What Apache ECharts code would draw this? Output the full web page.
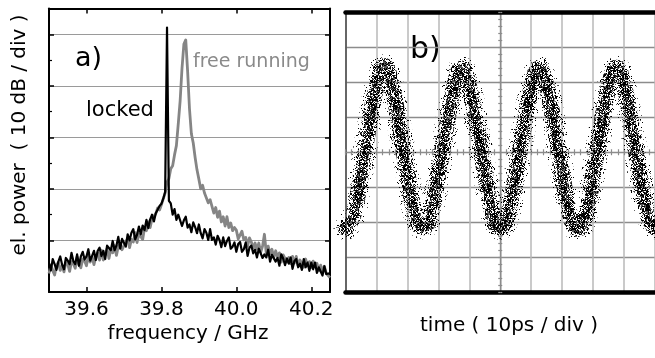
<!DOCTYPE html>
<html><head><meta charset="utf-8">
<script src="https://cdn.jsdelivr.net/npm/echarts@6/dist/echarts.min.js"></script>
<style>html,body{margin:0;padding:0;background:#fff}#c{width:655px;height:358px}</style>
</head><body><div id="c"></div>
<script>
// ---- panel a) spectrum data (dB, 10 dB per division) ----
const freqGHz = [
39.500,39.505,39.510,39.515,39.520,39.525,39.530,39.535,39.540,39.545,
39.550,39.555,39.560,39.565,39.570,39.575,39.580,39.585,39.590,39.595,
39.600,39.605,39.610,39.615,39.620,39.625,39.630,39.635,39.640,39.645,
39.650,39.655,39.660,39.665,39.670,39.675,39.680,39.685,39.690,39.695,
39.700,39.705,39.710,39.715,39.720,39.725,39.730,39.735,39.740,39.745,
39.750,39.755,39.760,39.765,39.770,39.775,39.780,39.785,39.790,39.795,
39.800,39.805,39.810,39.815,39.820,39.825,39.830,39.835,39.840,39.845,
39.850,39.855,39.860,39.865,39.870,39.875,39.880,39.885,39.890,39.895,
39.900,39.905,39.910,39.915,39.920,39.925,39.930,39.935,39.940,39.945,
39.950,39.955,39.960,39.965,39.970,39.975,39.980,39.985,39.990,39.995,
40.000,40.005,40.010,40.015,40.020,40.025,40.030,40.035,40.040,40.045,
40.050,40.055,40.060,40.065,40.070,40.075,40.080,40.085,40.090,40.095,
40.100,40.105,40.110,40.115,40.120,40.125,40.130,40.135,40.140,40.145,
40.150,40.155,40.160,40.165,40.170,40.175,40.180,40.185,40.190,40.195,
40.200,40.205,40.210,40.215,40.220,40.225,40.230,40.235,40.240,40.245,
40.250];
const lockedDb = [
5.6,4.2,6.4,5.4,4.3,5.9,6.9,5.3,4.4,6.6,
6.1,5.4,7.6,6.0,5.4,7.3,5.1,6.9,7.8,6.3,
6.9,8.3,6.1,7.0,8.0,6.2,8.0,8.6,7.0,8.0,
6.4,9.0,8.7,8.1,9.9,8.1,9.0,10.7,8.4,10.3,
10.1,8.8,11.2,10.0,11.5,12.2,10.2,11.1,12.7,11.2,
12.9,12.0,14.0,12.4,14.1,15.0,13.7,15.3,15.3,16.7,
17.1,18.1,19.4,51.3,17.7,17.2,15.0,16.1,14.0,15.0,
14.7,12.8,13.9,14.6,12.5,13.1,11.6,13.5,12.6,11.4,
13.1,11.4,10.4,12.2,11.5,10.1,12.2,10.1,10.6,9.2,
10.9,10.1,8.7,10.6,8.9,9.9,10.6,8.4,8.8,9.6,
7.8,9.3,9.7,7.8,8.3,9.6,7.0,8.6,9.0,7.5,
8.2,6.7,8.4,8.5,6.6,7.3,6.7,8.2,5.9,7.2,
7.5,5.9,6.6,5.1,7.3,6.5,5.2,6.5,5.5,6.7,
4.5,6.0,6.4,4.8,5.5,4.3,6.4,4.8,5.7,4.1,
5.7,4.4,5.7,3.7,4.8,5.1,3.2,5.0,3.5,3.7,
3.6];
const freeRunningDb = [
3.6,5.2,4.2,3.3,5.2,5.8,4.2,5.1,3.9,5.8,
5.4,4.0,5.9,5.5,4.6,6.8,5.3,4.7,6.4,6.0,
5.1,7.1,5.8,6.9,5.3,6.9,7.6,6.2,8.1,6.2,
7.3,8.4,6.5,8.3,7.6,9.0,7.1,8.9,9.4,8.2,
8.2,9.7,10.4,8.6,10.2,9.7,11.5,9.6,11.3,11.2,
10.2,12.4,11.9,13.6,12.5,14.2,13.9,15.2,16.3,15.9,
16.9,18.1,19.2,21.3,22.0,23.9,24.5,26.6,28.4,32.6,
37.1,43.4,48.1,48.9,42.8,35.5,30.7,28.9,26.1,23.7,
21.9,20.0,20.7,19.2,19.4,17.3,17.9,17.7,15.3,16.4,
14.5,15.7,13.6,14.6,12.8,14.6,12.5,13.4,11.9,12.5,
12.0,10.3,10.4,11.8,10.1,10.6,8.9,10.5,9.7,8.5,
9.5,8.3,9.5,7.7,8.9,11.2,7.5,8.9,7.4,8.3,
6.7,8.0,6.7,7.6,5.8,7.2,7.5,5.8,6.7,5.5,
6.9,5.6,6.9,5.1,6.2,6.4,4.8,6.4,5.1,5.9,
4.7,6.0,4.9,5.6,4.1,5.2,4.1,5.0,3.6,3.9,
2.8];
const freqTicks = [39.6, 39.8, 40.0, 40.2];

// ---- panel b) sampling scope trace (divisions) ----
const timeDiv = [-5,-4.75,-4.5,-4.25,-4,-3.75,-3.5,-3.25,-3,-2.75,-2.5,-2.25,-2,-1.75,-1.5,-1.25,-1,-0.75,-0.5,-0.25,
  0,0.25,0.5,0.75,1,1.25,1.5,1.75,2,2.25,2.5,2.75,3,3.25,3.5,3.75,4,4.25,4.5,4.75,5];
const scopeDiv = [-2.17,-1.82,-0.64,0.72,1.88,2.47,1.90,0.70,-0.60,-1.78,-2.15,-1.80,-0.62,0.68,1.84,2.40,1.86,0.72,-0.58,-1.76,
  -2.16,-1.80,-0.66,0.66,1.82,2.40,1.88,0.74,-0.58,-1.78,-2.20,-1.84,-0.64,0.70,1.86,2.42,1.90,0.72,-0.60,-1.76,-2.15];

const FONT = '"DejaVu Sans", sans-serif';

// speckle texture used as the stroke style of the scope trace
function speckle(w, h, density, seed) {
  const c = document.createElement('canvas');
  c.width = w; c.height = h;
  const ctx = c.getContext('2d');
  let s = seed >>> 0;
  const rnd = () => { s = (Math.imul(s, 1664525) + 1013904223) >>> 0; return (s >>> 8) / 16777216; };
  for (let y = 0; y < h; y++) for (let x = 0; x < w; x++) {
    if (rnd() < density) {
      ctx.fillStyle = rnd() < 0.7 ? '#000' : '#5a5a5a';
      ctx.fillRect(x, y, 1, 1);
    }
  }
  return { image: c, repeat: 'repeat' };
}

const chart = echarts.init(document.getElementById('c'), null, { renderer: 'canvas' });
const lockedPts = freqGHz.map((f, i) => [f, lockedDb[i]]);
const freePts = freqGHz.map((f, i) => [f, freeRunningDb[i]]);
const wavePts = timeDiv.map((t, i) => [t, scopeDiv[i]]);

const black = { color: '#000', width: 2 };
const bRect = { left: 345.5, top: 12.5, width: 310, height: 279.5 };
const centerLine = { color: '#8c8c8c', width: 1.2 };

chart.setOption({
  animation: false,
  grid: [
    { left: 49, top: 8.5, width: 281, height: 283.5 },
    Object.assign({}, bRect), Object.assign({}, bRect), Object.assign({}, bRect)
  ],
  xAxis: [
    { gridIndex: 0, type: 'value', min: 39.5, max: 40.25, position: 'bottom',
      axisLine: { onZero: false, lineStyle: black },
      axisTick: { inside: true, length: 5, customValues: freqTicks, lineStyle: { color: '#000', width: 1.5 } },
      axisLabel: { customValues: freqTicks, formatter: v => v.toFixed(1), fontFamily: FONT, fontSize: 20, color: '#000', margin: 8 },
      splitLine: { show: false } },
    { gridIndex: 0, type: 'value', min: 39.5, max: 40.25, position: 'top',
      axisLine: { onZero: false, lineStyle: black },
      axisTick: { inside: true, length: 5, customValues: freqTicks, lineStyle: { color: '#000', width: 1.5 } },
      axisLabel: { show: false }, splitLine: { show: false } },
    { gridIndex: 1, type: 'value', min: -5, max: 5, interval: 1, position: 'bottom',
      axisLine: { onZero: false, lineStyle: { color: '#000', width: 4.5 } },
      axisTick: { show: false }, axisLabel: { show: false },
      splitLine: { show: true, lineStyle: { color: '#b8b8b8', width: 1.5 } } },
    { gridIndex: 1, type: 'value', min: -5, max: 5, interval: 1, position: 'top',
      axisLine: { onZero: false, lineStyle: { color: '#000', width: 4.5 } },
      axisTick: { show: false }, axisLabel: { show: false }, splitLine: { show: false } },
    { gridIndex: 2, type: 'value', min: -5, max: 5, interval: 1,
      axisLine: { onZero: true, lineStyle: centerLine },
      axisTick: { show: true, length: 3, lineStyle: centerLine },
      minorTick: { show: true, splitNumber: 5, length: 3, lineStyle: centerLine },
      axisLabel: { show: false }, splitLine: { show: false } },
    { gridIndex: 3, type: 'value', min: -5, max: 5, interval: 1,
      axisLine: { onZero: true, lineStyle: centerLine },
      axisTick: { show: true, inside: true, length: 3, lineStyle: centerLine },
      minorTick: { show: true, splitNumber: 5, length: 3, lineStyle: centerLine },
      axisLabel: { show: false }, splitLine: { show: false } }
  ],
  yAxis: [
    { gridIndex: 0, type: 'value', min: 0, max: 55, interval: 10, position: 'left',
      axisLine: { show: true, onZero: false, lineStyle: black },
      axisTick: { inside: true, length: 5, lineStyle: { color: '#000', width: 1.5 } },
      minorTick: { show: true, splitNumber: 2, length: 3, lineStyle: { color: '#000', width: 1.2 } },
      axisLabel: { show: false },
      splitLine: { show: true, lineStyle: { color: '#9a9a9a', width: 1.2 } } },
    { gridIndex: 0, type: 'value', min: 0, max: 55, interval: 10, position: 'right',
      axisLine: { show: true, onZero: false, lineStyle: black },
      axisTick: { inside: true, length: 5, lineStyle: { color: '#000', width: 1.5 } },
      axisLabel: { show: false }, splitLine: { show: false } },
    { gridIndex: 1, type: 'value', min: -4, max: 4, interval: 1, position: 'left',
      axisLine: { show: true, onZero: false, lineStyle: { color: '#444', width: 1.5 } },
      axisTick: { show: false }, axisLabel: { show: false },
      splitLine: { show: true, lineStyle: { color: '#8c8c8c', width: 1.3 } } },
    { gridIndex: 2, type: 'value', min: -4, max: 4, interval: 1,
      axisLine: { show: true, onZero: true, lineStyle: centerLine },
      axisTick: { show: true, length: 2, lineStyle: centerLine },
      minorTick: { show: true, splitNumber: 5, length: 2, lineStyle: centerLine },
      axisLabel: { show: false }, splitLine: { show: false } },
    { gridIndex: 3, type: 'value', min: -4, max: 4, interval: 1,
      axisLine: { show: true, onZero: true, lineStyle: centerLine },
      axisTick: { show: true, inside: true, length: 2, lineStyle: centerLine },
      minorTick: { show: true, splitNumber: 5, length: 2, lineStyle: centerLine },
      axisLabel: { show: false }, splitLine: { show: false } }
  ],
  series: [
    { name: 'free running', type: 'line', xAxisIndex: 0, yAxisIndex: 0, data: freePts,
      showSymbol: false, silent: true, z: 3, lineStyle: { color: '#858585', width: 2.8, join: 'round' } },
    { name: 'locked', type: 'line', xAxisIndex: 0, yAxisIndex: 0, data: lockedPts,
      showSymbol: false, silent: true, z: 4, lineStyle: { color: '#000', width: 2.2, join: 'round' } },
    { name: 'trace outer', type: 'line', xAxisIndex: 2, yAxisIndex: 2, data: wavePts, smooth: 0.5,
      showSymbol: false, silent: true, z: 3,
      lineStyle: { width: 24, color: speckle(97, 89, 0.08, 11), cap: 'round', join: 'round' } },
    { name: 'trace mid', type: 'line', xAxisIndex: 2, yAxisIndex: 2, data: wavePts, smooth: 0.5,
      showSymbol: false, silent: true, z: 4,
      lineStyle: { width: 16, color: speckle(101, 83, 0.38, 29), cap: 'round', join: 'round' } },
    { name: 'trace core', type: 'line', xAxisIndex: 2, yAxisIndex: 2, data: wavePts, smooth: 0.5,
      showSymbol: false, silent: true, z: 5,
      lineStyle: { width: 9, color: speckle(89, 103, 0.6, 53), cap: 'round', join: 'round' } }
  ],
  graphic: [
    { type: 'text', x: 20, y: 135, rotation: Math.PI / 2, silent: true,
      style: { text: 'el. power  ( 10 dB / div )', fontFamily: FONT, fontSize: 20, fill: '#000', align: 'center', verticalAlign: 'middle' } },
    { type: 'text', x: 188, y: 334, silent: true,
      style: { text: 'frequency / GHz', fontFamily: FONT, fontSize: 20, fill: '#000', align: 'center', verticalAlign: 'middle' } },
    { type: 'text', x: 509, y: 326, silent: true,
      style: { text: 'time ( 10ps / div )', fontFamily: FONT, fontSize: 20, fill: '#000', align: 'center', verticalAlign: 'middle' } },
    { type: 'text', x: 75, y: 59, silent: true,
      style: { text: 'a)', fontFamily: FONT, fontSize: 27, fill: '#000', align: 'left', verticalAlign: 'middle' } },
    { type: 'text', x: 193, y: 62, silent: true,
      style: { text: 'free running', fontFamily: FONT, fontSize: 19, fill: '#8a8a8a', align: 'left', verticalAlign: 'middle' } },
    { type: 'text', x: 86, y: 111, silent: true,
      style: { text: 'locked', fontFamily: FONT, fontSize: 21, fill: '#000', align: 'left', verticalAlign: 'middle' } },
    { type: 'text', x: 410, y: 50, silent: true,
      style: { text: 'b)', fontFamily: FONT, fontSize: 30, fill: '#000', align: 'left', verticalAlign: 'middle' } }
  ]
});
</script></body></html>
